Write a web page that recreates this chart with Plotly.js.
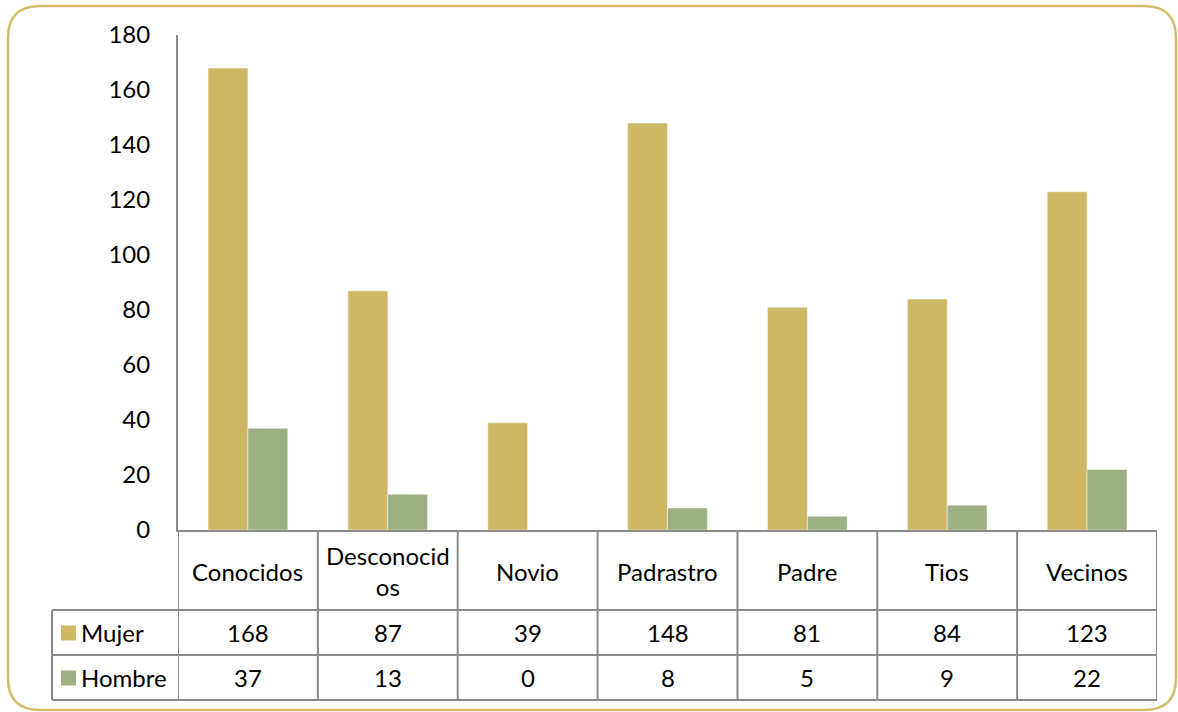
<!DOCTYPE html>
<html>
<head>
<meta charset="utf-8">
<script src="https://cdn.plot.ly/plotly-3.0.1.min.js"></script>
<style>html,body{margin:0;padding:0;background:#fff;}</style>
</head>
<body>
<div id="chart" style="width:1178px;height:712px;"></div>
<script>
const categories = ['Conocidos','Desconocidos','Novio','Padrastro','Padre','Tios','Vecinos'];
const headerLabels = ['Conocidos','Desconocid<br>os','Novio','Padrastro','Padre','Tios','Vecinos'];
const seriesNames = ['Mujer','Hombre'];
const mujer = [168,87,39,148,81,84,123];
const hombre = [37,13,0,8,5,9,22];
const yTicks = [0,20,40,60,80,100,120,140,160,180];

const W = 1178, H = 712;
const colors = ['#CEB866','#9DB084'];
const gridCol = '#8a8a8a';
const FONT = 'Lato, "Open Sans", sans-serif';
const FS = 24;
const px = v => v / W;
const py = v => 1 - v / H;

const plotLeft = 178, plotRight = 1157, plotTop = 35, plotBottom = 530;
const headerBottom = 610, row1Bottom = 655, row2Bottom = 700, legendLeft = 52;

const traces = [
  {type:'bar', name:seriesNames[0], x:categories, y:mujer, marker:{color:colors[0], line:{color:'rgba(255,255,255,0.45)', width:1}}, hoverinfo:'x+y'},
  {type:'bar', name:seriesNames[1], x:categories, y:hombre, marker:{color:colors[1], line:{color:'rgba(255,255,255,0.45)', width:1}}, hoverinfo:'x+y'}
];

const shapes = [];
const annotations = [];
const line = (x0,y0,x1,y1,xref) => shapes.push({type:'line', xref:xref||'paper', yref:'paper', x0:x0, x1:x1, y0:y0, y1:y1, line:{color:gridCol, width:2}});

for (let i = 0; i <= categories.length; i++) {
  line(i - 0.5, py(plotBottom), i - 0.5, py(row2Bottom), 'x');
}
line(px(legendLeft), py(headerBottom), px(legendLeft), py(row2Bottom));
[headerBottom, row1Bottom, row2Bottom].forEach(yy => line(px(legendLeft), py(yy), px(plotRight), py(yy)));

const cellFont = {family:FONT, size:FS, color:'#000'};
categories.forEach((c, i) => {
  annotations.push({xref:'x', yref:'paper', x:i, y:py((plotBottom+headerBottom)/2 + 1), text:headerLabels[i], showarrow:false, font:cellFont, xanchor:'center', yanchor:'middle'});
  annotations.push({xref:'x', yref:'paper', x:i, y:py((headerBottom+row1Bottom)/2), text:String(mujer[i]), showarrow:false, font:cellFont, xanchor:'center', yanchor:'middle'});
  annotations.push({xref:'x', yref:'paper', x:i, y:py((row1Bottom+row2Bottom)/2), text:String(hombre[i]), showarrow:false, font:cellFont, xanchor:'center', yanchor:'middle'});
});

const rowCenters = [(headerBottom+row1Bottom)/2, (row1Bottom+row2Bottom)/2];
seriesNames.forEach((n, k) => {
  const cy = rowCenters[k];
  shapes.push({type:'rect', xref:'paper', yref:'paper', x0:px(61), x1:px(76), y0:py(cy+8), y1:py(cy-7), fillcolor:colors[k], line:{width:0}});
  annotations.push({xref:'paper', yref:'paper', x:px(79), y:py(cy), text:n, showarrow:false, font:cellFont, xanchor:'left', yanchor:'middle'});
});

const bx0 = 8, by0 = 6, bx1 = 1176, by1 = 710, r = 32;
const P = (x,y) => px(x) + ',' + py(y);
const path = 'M' + P(bx0+r, by0) + ' L' + P(bx1-r, by0) + ' Q' + P(bx1, by0) + ' ' + P(bx1, by0+r) +
  ' L' + P(bx1, by1-r) + ' Q' + P(bx1, by1) + ' ' + P(bx1-r, by1) +
  ' L' + P(bx0+r, by1) + ' Q' + P(bx0, by1) + ' ' + P(bx0, by1-r) +
  ' L' + P(bx0, by0+r) + ' Q' + P(bx0, by0) + ' ' + P(bx0+r, by0) + ' Z';
shapes.push({type:'path', xref:'paper', yref:'paper', path:path, line:{color:'#D3BD6C', width:2.5}, fillcolor:'rgba(0,0,0,0)', layer:'above'});

const layout = {
  width:W, height:H,
  margin:{l:0, r:0, t:0, b:0},
  paper_bgcolor:'#fff', plot_bgcolor:'#fff',
  showlegend:false,
  barmode:'group', bargap:0.43, bargroupgap:0,
  font:{family:FONT, size:FS, color:'#000'},
  xaxis:{domain:[px(plotLeft), px(plotRight)], type:'category', range:[-0.5, categories.length-0.5],
         showticklabels:false, ticks:'', showgrid:false, zeroline:false,
         showline:true, linecolor:gridCol, linewidth:2, fixedrange:true},
  yaxis:{domain:[py(plotBottom), py(plotTop)], range:[0,180], tickvals:yTicks, ticktext:yTicks.map(String),
         showgrid:false, zeroline:false, showline:true, linecolor:gridCol, linewidth:2,
         ticks:'outside', ticklen:21, tickcolor:'rgba(0,0,0,0)',
         tickfont:{family:FONT, size:FS, color:'#000'}, fixedrange:true},
  shapes:shapes,
  annotations:annotations
};

Plotly.newPlot('chart', traces, layout, {displayModeBar:false, staticPlot:true});
</script>
</body>
</html>
